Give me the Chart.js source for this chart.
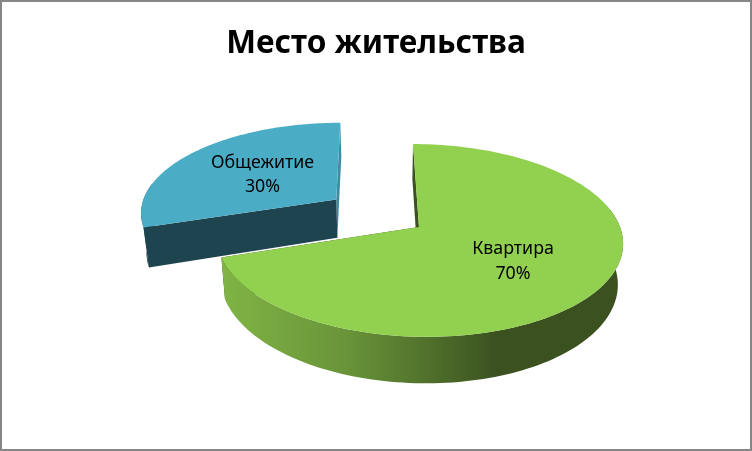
<!DOCTYPE html>
<html>
<head>
<meta charset="utf-8">
<title>Место жительства</title>
<script src="https://cdn.jsdelivr.net/npm/chart.js@4"></script>
<style>
html,body{margin:0;padding:0;background:#fff}
canvas{display:block}
</style>
</head>
<body>
<canvas id="grafico" width="752" height="451"></canvas>
<script>
const titulo = "Место жительства"
const categorias = ["Квартира", "Общежитие"]
const valores = [70, 30]

const colores = ["#92d050", "#4bacc6"]
const caraInicio = ["#3b5220", "#1e4450"]
const caraFin = ["#3b5220", "#3d8ca3"]

// the 3d view: tilt of the plate, lean, height, vanishing of the verticals
const aplastar = 0.47
const inclinar = 0.14
const sesgo = 0.034
const altura = 40
const fugaX = 385
const fugaEscala = 0.978
const corrimientoX = 43
const ajusteEtiqueta = [-2, 7]

function proyectar(el, wx, wy){
const w = 1 - inclinar * wy / el.outerRadius
return {x: el.x + corrimientoX + (wx + sesgo * wy) / w, y: el.y + aplastar * wy / w, w: w}
}

function abajo(p){
return {x: fugaX + (p.x - fugaX) * fugaEscala, y: p.y + altura / p.w}
}

function poligono(ctx, pts, color){
ctx.beginPath()
pts.forEach((p, i) => i ? ctx.lineTo(p.x, p.y) : ctx.moveTo(p.x, p.y))
ctx.closePath()
ctx.fillStyle = color
ctx.fill()
}

function geometria(el){
const medio = (el.startAngle + el.endAngle) / 2
const ox = Math.cos(medio) * (el.options.offset || 0)
const oy = Math.sin(medio) * (el.options.offset || 0)
const borde = []
const frente = []
const pasos = 160
for(let i = 0; i <= pasos; i++){
const a = el.startAngle + (el.endAngle - el.startAngle) * i / pasos
const p = proyectar(el, ox + el.outerRadius * Math.cos(a), oy + el.outerRadius * Math.sin(a))
borde.push(p)
// only the part of the rim that faces the viewer gets a wall
if(Math.sin(a) > -0.2) frente.push(p)
}
return {medio, ox, oy, borde, frente, centro: proyectar(el, ox, oy)}
}

const pastel3d = {
id: "pastel3d",
beforeDraw(chart){
const ctx = chart.ctx
ctx.save()
ctx.fillStyle = "#fff"
ctx.fillRect(0, 0, chart.width, chart.height)
ctx.strokeStyle = "#868686"
ctx.lineWidth = 2
ctx.strokeRect(1, 1, chart.width - 2, chart.height - 2)
ctx.restore()
},
beforeDatasetDraw(chart, args){
const ctx = chart.ctx
const arcos = chart.getDatasetMeta(args.index).data
arcos.forEach((el, i) => {
const g = geometria(el)
const ini = g.borde[0]
const fin = g.borde[g.borde.length - 1]

poligono(ctx, [fin, g.centro, abajo(g.centro), abajo(fin)], caraFin[i])
poligono(ctx, [ini, g.centro, abajo(g.centro), abajo(ini)], caraInicio[i])

let pared = caraInicio[i]
if(i == 0){
pared = ctx.createLinearGradient(223, 0, 497, 0)
pared.addColorStop(0, "#80b445")
pared.addColorStop(0.45, "#699439")
pared.addColorStop(1, "#3b5220")
}
poligono(ctx, g.frente.concat(g.frente.map(abajo).reverse()), pared)
poligono(ctx, [g.centro].concat(g.borde), colores[i])
})
return false
},
afterDatasetsDraw(chart){
const ctx = chart.ctx
const total = valores.reduce((a, b) => a + b, 0)
ctx.save()
ctx.font = "17.8px 'Noto Sans'"
ctx.fillStyle = "#000"
ctx.textAlign = "center"
ctx.textBaseline = "alphabetic"
chart.getDatasetMeta(0).data.forEach((el, i) => {
const g = geometria(el)
const r = el.outerRadius * 0.55
const p = proyectar(el, g.ox + r * Math.cos(g.medio), g.oy + r * Math.sin(g.medio))
ctx.fillText(categorias[i], p.x + ajusteEtiqueta[i], p.y - 4.5)
ctx.fillText(Math.round(valores[i] / total * 100) + "%", p.x + ajusteEtiqueta[i], p.y + 20)
})
ctx.restore()
}
}

new Chart(document.getElementById("grafico"), {
type: "pie",
data: {
labels: categorias,
datasets: [{
data: valores,
backgroundColor: colores,
offset: [0, 104],
radius: 201
}]
},
options: {
responsive: false,
animation: false,
layout: {padding: {bottom: 60}},
plugins: {
legend: {display: false},
tooltip: {enabled: false},
title: {
display: true,
text: titulo,
color: "#000",
font: {family: "'Noto Sans'", size: 31.6, weight: "bold"},
padding: {top: 25, bottom: 0}
}
}
},
plugins: [pastel3d]
})
</script>
</body>
</html>
